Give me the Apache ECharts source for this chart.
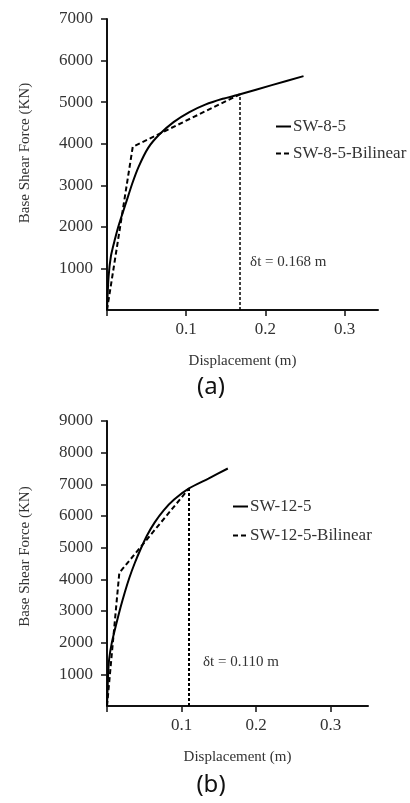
<!DOCTYPE html>
<html><head><meta charset="utf-8">
<script src="https://cdn.jsdelivr.net/npm/echarts@6/dist/echarts.min.js"></script>
<style>html,body{margin:0;padding:0;background:#fff}#c{width:410px;height:803px}</style>
</head><body><div id="c"></div>
<script>
// ---- Data (a) ----
const namesA = ['SW-8-5', 'SW-8-5-Bilinear'];
const curveA_disp  = [0, 0.002, 0.005, 0.010, 0.015, 0.024, 0.032, 0.040, 0.052, 0.066, 0.084, 0.104, 0.124, 0.146, 0.168, 0.208, 0.248];
const curveA_force = [0, 800, 1300, 1700, 2050, 2580, 3050, 3450, 3900, 4220, 4520, 4760, 4940, 5080, 5190, 5410, 5625];
const bilinA_disp  = [0, 0.0325, 0.168];
const bilinA_force = [0, 3925, 5190];
const targetA = 0.168, targetA_force = 5190, targetA_labelForce = 1150;
const yMaxA = 7000, xMaxA = 0.342;

// ---- Data (b) ----
const namesB = ['SW-12-5', 'SW-12-5-Bilinear'];
const curveB_disp  = [0, 0.0015, 0.003, 0.0065, 0.012, 0.018, 0.024, 0.030, 0.037, 0.045, 0.054, 0.064, 0.076, 0.090, 0.110, 0.136, 0.162];
const curveB_force = [0, 1000, 1500, 2000, 2550, 3100, 3600, 4050, 4500, 4950, 5400, 5800, 6180, 6520, 6870, 7180, 7500];
const bilinB_disp  = [0, 0.0165, 0.110];
const bilinB_force = [0, 4205, 6870];
const targetB = 0.110, targetB_force = 6870, targetB_labelForce = 1400;
const yMaxB = 9000, xMaxB = 0.35;

const xTickValues = [0, 0.1, 0.2, 0.3];
const xLabelValues = [0.1, 0.2, 0.3];
const labelA = '(a)', labelB = '(b)';
const xTitle = 'Displacement (m)', yTitle = 'Base Shear Force (KN)';

const zip = (xs, ys) => xs.map((x, i) => [x, ys[i]]);
const FONT = 'Liberation Serif';
const TXT = '#333';

function xAx(gi, max) {
  return {
    type: 'value', gridIndex: gi, min: 0, max: max,
    name: xTitle, nameLocation: 'middle', nameGap: 44,
    nameTextStyle: { fontFamily: FONT, fontSize: 15, color: TXT },
    axisLine: { show: true, lineStyle: { color: '#111', width: 2 } },
    axisTick: { show: true, length: 6, lineStyle: { color: '#111', width: 1.5 }, customValues: xTickValues },
    axisLabel: { fontFamily: FONT, fontSize: 17, color: TXT, margin: 11, customValues: xLabelValues,
      formatter: v => String(v) },
    splitLine: { show: false }
  };
}
function yAx(gi, max, pad) {
  return {
    type: 'value', gridIndex: gi, min: 0, max: max, interval: 1000,
    name: yTitle, nameLocation: 'middle', nameGap: 74, nameRotate: 90,
    nameTextStyle: { fontFamily: FONT, fontSize: 15, color: TXT, padding: [0, 0, 0, pad] },
    axisLine: { show: true, lineStyle: { color: '#111', width: 2 } },
    axisTick: { show: true, length: 6, lineStyle: { color: '#111', width: 1.5 } },
    axisLabel: { fontFamily: FONT, fontSize: 17, color: TXT, margin: 14, showMinLabel: false,
      formatter: v => String(v) },
    splitLine: { show: false }
  };
}
function solid(name, gi, data) {
  return { name: name, type: 'line', xAxisIndex: gi, yAxisIndex: gi, data: data,
    symbol: 'none', smooth: 0.25,
    lineStyle: { color: '#000', width: 2 }, itemStyle: { color: '#000' } };
}
function dashed(name, gi, data, t, tf, lf, dist, vw) {
  return { name: name, type: 'line', xAxisIndex: gi, yAxisIndex: gi, data: data,
    symbol: 'none',
    lineStyle: { color: '#000', width: 2, type: [5, 3] }, itemStyle: { color: '#000' },
    markLine: { silent: true, symbol: ['none', 'none'], label: { show: false },
      lineStyle: { color: '#000', width: vw, type: [3, 2] },
      data: [[{ coord: [t, 0] }, { coord: [t, tf] }]] },
    markPoint: { silent: true, symbol: 'circle', symbolSize: 0,
      data: [{ coord: [t, lf] }],
      label: { show: true, position: 'right', distance: dist, formatter: 'δt = ' + t.toFixed(3) + ' m',
        fontFamily: FONT, fontSize: 15, color: TXT } }
  };
}
function legend(names, left, top, gap) {
  return { data: names, orient: 'vertical', left: left, top: top, padding: 0,
    itemWidth: 15, itemHeight: 10, itemGap: gap,
    itemStyle: { opacity: 0 },
    textStyle: { fontFamily: FONT, fontSize: 17, lineHeight: 17, color: TXT, padding: [0, 0, 0, -3] } };
}

const chart = echarts.init(document.getElementById('c'), null, { renderer: 'canvas' });
chart.setOption({
  animation: false,
  backgroundColor: '#fff',
  grid: [
    { left: 107, top: 19, width: 271, height: 291 },
    { left: 107, top: 421, width: 261, height: 285 }
  ],
  xAxis: [xAx(0, xMaxA), xAx(1, xMaxB)],
  yAxis: [yAx(0, yMaxA, 23), yAx(1, yMaxB, 14)],
  legend: [legend(namesA, 275, 118, 10), legend(namesB, 232, 498, 12)],
  series: [
    solid(namesA[0], 0, zip(curveA_disp, curveA_force)),
    dashed(namesA[1], 0, zip(bilinA_disp, bilinA_force), targetA, targetA_force, targetA_labelForce, 10, 1.5),
    solid(namesB[0], 1, zip(curveB_disp, curveB_force)),
    dashed(namesB[1], 1, zip(bilinB_disp, bilinB_force), targetB, targetB_force, targetB_labelForce, 14, 2)
  ],
  graphic: [
    { type: 'text', x: 211, y: 387, style: { text: labelA, font: '24px "Noto Sans"', fill: '#111', align: 'center', verticalAlign: 'middle' } },
    { type: 'text', x: 211, y: 785, style: { text: labelB, font: '24px "Noto Sans"', fill: '#111', align: 'center', verticalAlign: 'middle' } }
  ]
});
</script></body></html>
